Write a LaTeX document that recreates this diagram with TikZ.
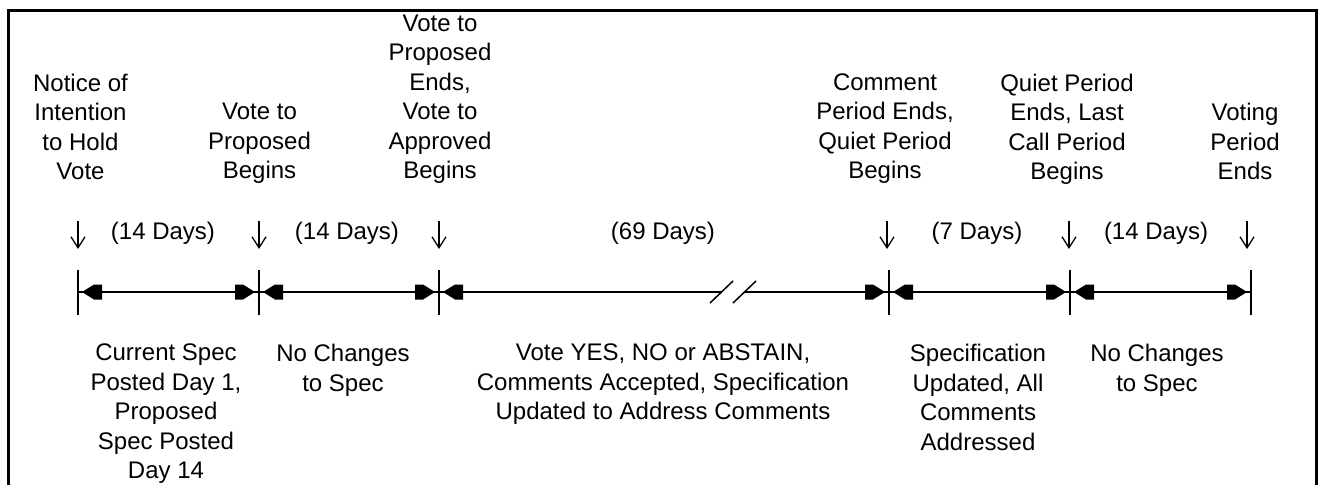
\documentclass[tikz,border=0pt]{standalone}
\usepackage{fontspec}
\setmainfont{Liberation Sans}
\usetikzlibrary{arrows.meta,calc}

\begin{document}
\begin{tikzpicture}[x=1pt,y=-1pt,
  lbl/.style={align=center, inner sep=0pt, font=\fontsize{24pt}{29.5pt}\selectfont},
  toplbl/.style={lbl, anchor=north},
  botlbl/.style={lbl, anchor=north},
  dur/.style={lbl, anchor=center},
  tickmark/.style={line width=1.8pt},
  axis/.style={line width=1.8pt},
  down/.style={line width=1.3pt, -{Straight Barb[length=11pt,width=14pt]}},
  frame/.style={line width=3pt},
  slash/.style={line width=1.5pt},
  headR/.pic={\fill (0,0) -- (-12,-7.5) -- (-20,-7.5) -- (-20,7.5) -- (-12,7.5) -- cycle;},
  headL/.pic={\fill (0,0) -- (12,-7.5) -- (20,-7.5) -- (20,7.5) -- (12,7.5) -- cycle;},
]
\useasboundingbox (0,0) rectangle (1321,485);

% open frame (no bottom edge)
\draw[frame] (8.5,485) -- (8.5,10.5) -- (1316.5,10.5) -- (1316.5,485);

% milestones on the time axis
\foreach \n/\x in {1/78,2/259,3/439,4/889,5/1070,6/1251}
  \coordinate (t\n) at (\x,292);
\coordinate (b1) at (721.5,292);
\coordinate (b2) at (744.5,292);

\foreach \n in {1,...,6}
  \draw[tickmark] ($(t\n)+(0,-22)$) -- ($(t\n)+(0,23)$);

% axis segments
\draw[axis] (t1) -- (t2);
\draw[axis] (t2) -- (t3);
\draw[axis] (t3) -- (b1);
\draw[axis] (b2) -- (t4);
\draw[axis] (t4) -- (t5);
\draw[axis] (t5) -- (t6);

% break mark in the long period
\draw[slash] (710,303) -- (733,281);
\draw[slash] (733,303) -- (756,281);

% dimension heads at both ends of each period
\foreach \a/\b in {1/2,2/3,3/4,4/5,5/6}{
  \pic at ($(t\a)+(4,0)$) {headL};
  \pic at ($(t\b)+(-4,0)$) {headR};
}

% durations
\node[dur] (d1) at (163,233.5) {(14 Days)};
\node[dur] (d2) at (347,233.5) {(14 Days)};
\node[dur] (d3) at (663,233.5) {(69 Days)};
\node[dur] (d4) at (977,233.5) {(7 Days)};
\node[dur] (d5) at (1156,233.5) {(14 Days)};

% events above the axis
\node[toplbl] (n1) at (80.5,73.5) {Notice of\\Intention\\to Hold\\Vote};
\node[toplbl] (n2) at (259.5,103) {Vote to\\Proposed\\Begins};
\node[toplbl] (n3) at (440,14.5) {Vote to\\Proposed\\Ends,\\Vote to\\Approved\\Begins};
\node[toplbl] (n4) at (885,73.5) {Comment\\Period Ends,\\Quiet Period\\Begins};
\node[toplbl] (n5) at (1067,73.5) {Quiet Period\\Ends, Last\\Call Period\\Begins};
\node[toplbl] (n6) at (1245,103) {Voting\\Period\\Ends};

% pointers from events down to the axis
\foreach \n/\x in {1/78,2/259,3/439,4/887,5/1069,6/1247}{
  \coordinate (p\n) at (\x,221);
  \coordinate (q\n) at (\x,249);
  \draw[down] (p\n) -- (q\n);
}

% what happens in each period
\node[botlbl] (m1) at (166,344) {Current Spec\\Posted Day 1,\\Proposed\\Spec Posted\\Day 14};
\node[botlbl] (m2) at (343,344) {No Changes\\to Spec};
\node[botlbl] (m3) at (663,344) {Vote YES, NO or ABSTAIN,\\Comments Accepted, Specification\\Updated to Address Comments};
\node[botlbl] (m4) at (978,344) {Specification\\Updated, All\\Comments\\Addressed};
\node[botlbl] (m5) at (1157,344) {No Changes\\to Spec};
\end{tikzpicture}
\end{document}
